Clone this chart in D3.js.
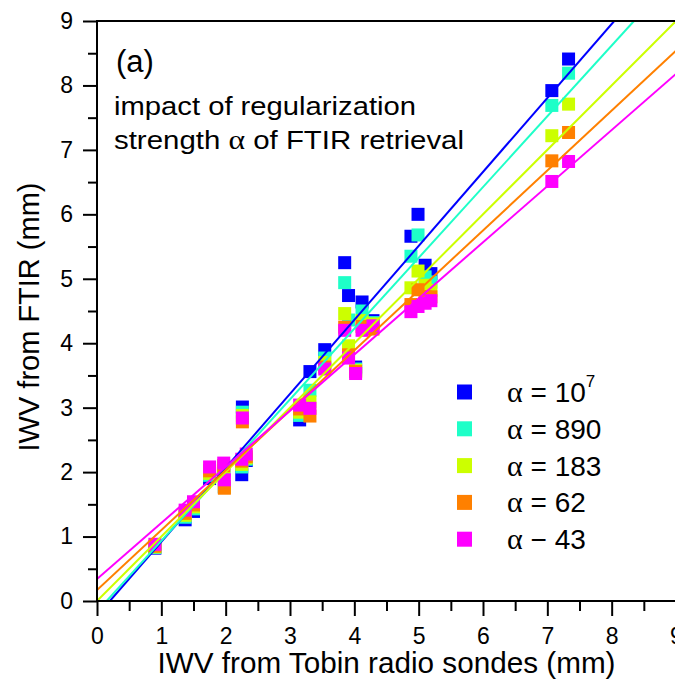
<!DOCTYPE html>
<html>
<head>
<meta charset="utf-8">
<script src="https://cdn.jsdelivr.net/npm/d3@7"></script>
<style>
  html, body { margin: 0; padding: 0; background: #fff; }
  svg { display: block; font-family: Arial, "Liberation Sans", Helvetica, sans-serif; }
</style>
</head>
<body>
<svg id="chart" width="675" height="681"></svg>
<script>
// ---- data ----
const seriesNames = [" = 10", " = 890", " = 183", " = 62", " − 43"];
const seriesSup = ["7", "", "", "", ""];
const seriesColors = ["#0000ff", "#1effc8", "#ccff00", "#ff8000", "#ff00ff"];

// IWV from Tobin radio sondes (mm) – shared x values
const sondeIWV = [0.90, 1.37, 1.50, 1.75, 1.97, 1.98, 2.26, 2.25, 2.32, 3.15, 3.31, 3.54, 3.85, 3.91, 4.02, 4.12, 4.29, 4.88, 4.99, 5.10, 5.19, 7.07, 7.33];

// IWV from FTIR (mm) for each regularization strength
const ftirA1e7 = [0.82, 1.26, 1.39, 1.90, 2.02, 1.77, 3.01, 1.96, 2.18, 2.81, 3.56, 3.90, 5.25, 4.74, 3.63, 4.64, 4.35, 5.66, 6.00, 5.21, 5.08, 7.92, 8.41];
const ftirA890 = [0.83, 1.30, 1.43, 1.95, 2.05, 1.77, 2.93, 2.08, 2.20, 2.88, 3.27, 3.77, 4.94, 4.36, 3.60, 4.50, 4.32, 5.35, 5.68, 5.03, 4.95, 7.69, 8.19];
const ftirA183 = [0.84, 1.33, 1.46, 1.98, 2.08, 1.77, 2.88, 2.12, 2.22, 2.93, 3.09, 3.70, 4.46, 3.96, 3.58, 4.35, 4.30, 4.86, 5.12, 4.90, 4.82, 7.22, 7.71];
const ftirA62  = [0.85, 1.36, 1.49, 2.02, 2.10, 1.75, 2.78, 2.17, 2.24, 2.98, 2.87, 3.63, 4.25, 3.82, 3.56, 4.26, 4.22, 4.60, 4.83, 4.72, 4.72, 6.83, 7.27];
const ftirA43  = [0.88, 1.41, 1.54, 2.08, 2.14, 1.88, 2.84, 2.20, 2.28, 3.04, 2.99, 3.60, 4.20, 3.77, 3.53, 4.20, 4.27, 4.49, 4.57, 4.62, 4.66, 6.51, 6.82];
const ftirSeries = [ftirA1e7, ftirA890, ftirA183, ftirA62, ftirA43];

// linear fit lines (slope, intercept)
const fitSlopes = [1.148, 1.098, 1.000, 0.930, 0.871];
const fitIntercepts = [-0.23, -0.165, 0.00, 0.17, 0.34];

const majorTicks = [0, 1, 2, 3, 4, 5, 6, 7, 8, 9];
const minorTicks = [0.5, 1.5, 2.5, 3.5, 4.5, 5.5, 6.5, 7.5, 8.5];

// ---- layout ----
const svg = d3.select("#chart");
const X0 = 97, X1 = 676, Y0 = 601, Y1 = 21;
const x = d3.scaleLinear().domain([0, 9]).range([X0, X1]);
const y = d3.scaleLinear().domain([0, 9]).range([Y0, Y1]);
const alphaFont = "'Liberation Serif', 'DejaVu Serif', serif";

svg.append("defs").append("clipPath").attr("id", "plotclip")
  .append("rect").attr("x", X0).attr("y", Y1).attr("width", X1 - X0).attr("height", Y0 - Y1);

// markers
const msize = 13;
const markers = svg.append("g").attr("clip-path", "url(#plotclip)");
ftirSeries.forEach((vals, si) => {
  markers.append("g").selectAll("rect")
    .data(vals.map((v, i) => [sondeIWV[i], v]))
    .join("rect")
    .attr("x", d => x(d[0]) - msize / 2)
    .attr("y", d => y(d[1]) - msize / 2)
    .attr("width", msize).attr("height", msize)
    .attr("fill", seriesColors[si]);
});

// fit lines
const lines = svg.append("g").attr("clip-path", "url(#plotclip)");
fitSlopes.forEach((m, si) => {
  const b = fitIntercepts[si];
  const xa = Math.max(0, (0 - b) / m);
  const xb = Math.min(9.2, (9 - b) / m);
  lines.append("line")
    .attr("x1", x(xa)).attr("y1", y(m * xa + b))
    .attr("x2", x(xb)).attr("y2", y(m * xb + b))
    .attr("stroke", seriesColors[si]).attr("stroke-width", 2);
});

// axes
function styleAxis(g) {
  g.selectAll("path.domain").remove();
  g.selectAll(".tick line").attr("stroke", "#000").attr("stroke-width", 2);
  g.selectAll("text").attr("fill", "#000");
}
const yAxis = svg.append("g").attr("transform", `translate(${X0},0)`)
  .call(d3.axisLeft(y).tickValues(majorTicks).tickSize(14).tickPadding(10).tickFormat(d3.format("d")));
yAxis.selectAll("text").attr("font-size", 23);
styleAxis(yAxis);
const yMinor = svg.append("g").attr("transform", `translate(${X0},0)`)
  .call(d3.axisLeft(y).tickValues(minorTicks).tickSize(9).tickFormat(""));
styleAxis(yMinor);

const xAxis = svg.append("g").attr("transform", `translate(0,${Y0})`)
  .call(d3.axisBottom(x).tickValues(majorTicks).tickSize(15).tickPadding(12).tickFormat(d3.format("d")));
xAxis.selectAll("text").attr("font-size", 23);
styleAxis(xAxis);
const xMinor = svg.append("g").attr("transform", `translate(0,${Y0})`)
  .call(d3.axisBottom(x).tickValues(minorTicks).tickSize(10).tickFormat(""));
styleAxis(xMinor);

// frame
svg.append("line").attr("x1", X0).attr("x2", X0).attr("y1", Y1 - 1).attr("y2", Y0 + 1)
  .attr("stroke", "#000").attr("stroke-width", 2);
svg.append("line").attr("x1", X0 - 1).attr("x2", X1 + 1).attr("y1", Y0).attr("y2", Y0)
  .attr("stroke", "#000").attr("stroke-width", 2);
svg.append("line").attr("x1", X0 - 1).attr("x2", X1 + 1).attr("y1", Y1).attr("y2", Y1)
  .attr("stroke", "#000").attr("stroke-width", 2);
svg.append("line").attr("x1", X1).attr("x2", X1).attr("y1", Y1).attr("y2", Y0)
  .attr("stroke", "#000").attr("stroke-width", 2);

// axis titles
svg.append("text").attr("x", (X0 + X1) / 2).attr("y", 673)
  .attr("text-anchor", "middle").attr("font-size", 29)
  .attr("textLength", 458).attr("lengthAdjust", "spacingAndGlyphs")
  .text("IWV from Tobin radio sondes (mm)");
svg.append("text")
  .attr("transform", `translate(39,${(Y0 + Y1) / 2 + 6}) rotate(-90)`)
  .attr("text-anchor", "middle").attr("font-size", 29)
  .text("IWV from FTIR (mm)");

// annotations
svg.append("text").attr("x", 116).attr("y", 72).attr("font-size", 31).text("(a)");
svg.append("text").attr("x", 114).attr("y", 115).attr("font-size", 26)
  .attr("textLength", 302).attr("lengthAdjust", "spacingAndGlyphs")
  .text("impact of regularization");
const ann2 = svg.append("text").attr("x", 114).attr("y", 149).attr("font-size", 26)
  .attr("textLength", 350).attr("lengthAdjust", "spacingAndGlyphs");
ann2.append("tspan").text("strength ");
ann2.append("tspan").attr("font-family", alphaFont).attr("font-size", 28).text("α");
ann2.append("tspan").text(" of FTIR retrieval");

// legend
const legend = svg.append("g");
seriesNames.forEach((name, i) => {
  const cy = 392 + i * 36.8;
  legend.append("rect").attr("x", 457).attr("y", cy - 7.5).attr("width", 15).attr("height", 15)
    .attr("fill", seriesColors[i]);
  const t = legend.append("text").attr("x", 507).attr("y", cy + 10).attr("font-size", 28);
  t.append("tspan").attr("font-family", alphaFont).attr("font-size", 30).text("α");
  t.append("tspan").text(name);
  if (seriesSup[i]) {
    t.append("tspan").attr("font-size", 17).attr("dy", -15).text(seriesSup[i]);
  }
});
</script>
</body>
</html>
